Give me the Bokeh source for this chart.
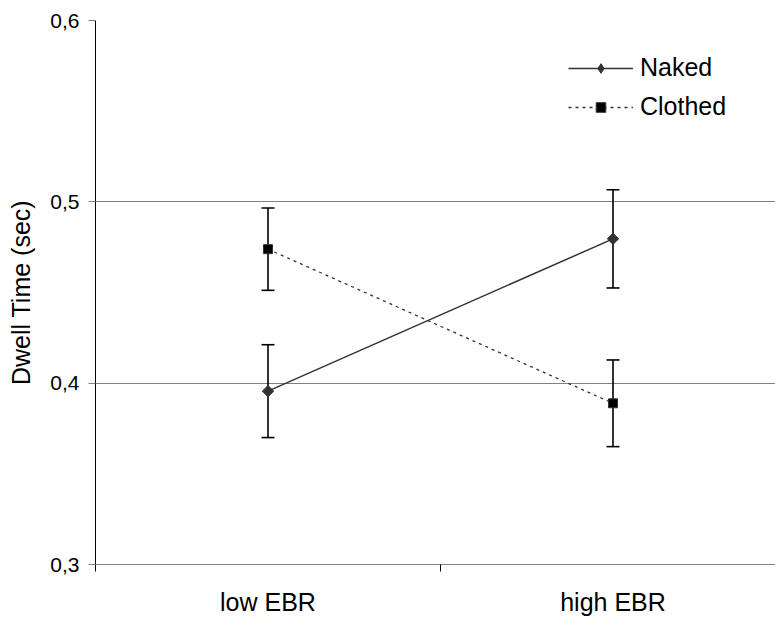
import math
from bokeh.plotting import figure
from bokeh.models import (Range1d, FixedTicker, CustomJSTickFormatter, Legend, LegendItem,
                          Whisker, TeeHead, ColumnDataSource)
from bokeh.embed import file_html
from bokeh.resources import INLINE

categories = ["low EBR", "high EBR"]
naked = [0.3956, 0.4796]
naked_err = [0.0256, 0.0271]
clothed = [0.4739, 0.3889]
clothed_err = [0.0227, 0.0239]
y_ticks = [0.3, 0.4, 0.5, 0.6]

FONT = "Liberation Sans"
xs = [i + 0.5 for i in range(len(categories))]

p = figure(width=775, height=618, output_backend="svg", toolbar_location=None,
           x_range=Range1d(0, 680 / 345), y_range=Range1d(0.3, 0.6),
           min_border_left=95, min_border_right=0, min_border_top=20, min_border_bottom=53)
p.outline_line_color = None
p.background_fill_color = "white"
p.border_fill_color = "white"

# x axis
p.xaxis.ticker = FixedTicker(ticks=xs, minor_ticks=list(range(len(categories) + 1)))
p.xaxis.major_label_overrides = {x: c for x, c in zip(xs, categories)}
p.xaxis.major_tick_out = 0
p.xaxis.major_tick_in = 0
p.xaxis.minor_tick_out = 7
p.xaxis.minor_tick_in = 0
p.xaxis.minor_tick_line_color = "black"
p.xaxis.axis_line_color = "#808080"
p.xaxis.axis_line_width = 1.2
p.xaxis.major_label_text_font = FONT
p.xaxis.major_label_text_font_size = "25px"
p.xaxis.major_label_text_color = "black"
p.xaxis.major_label_standoff = 16
p.xgrid.grid_line_color = None

# y axis
p.yaxis.ticker = FixedTicker(ticks=y_ticks, minor_ticks=[])
p.yaxis.formatter = CustomJSTickFormatter(code="return tick.toFixed(1).replace('.', ',');")
p.yaxis.major_tick_out = 7
p.yaxis.major_tick_in = 0
p.yaxis.major_tick_line_color = "#808080"
p.yaxis.axis_line_color = "black"
p.yaxis.major_label_text_font = FONT
p.yaxis.major_label_text_font_size = "21px"
p.yaxis.major_label_text_color = "black"
p.yaxis.major_label_standoff = 9
p.yaxis.axis_label = "Dwell Time (sec)"
p.yaxis.axis_label_text_font = FONT
p.yaxis.axis_label_text_font_size = "25px"
p.yaxis.axis_label_text_font_style = "normal"
p.yaxis.axis_label_text_color = "black"
p.yaxis.axis_label_standoff = 12
p.ygrid.ticker = FixedTicker(ticks=y_ticks)
p.ygrid.grid_line_color = "#808080"
p.ygrid.grid_line_width = 1.2

# error bars
src_n = ColumnDataSource(dict(x=xs, y=naked,
                              lo=[v - e for v, e in zip(naked, naked_err)],
                              hi=[v + e for v, e in zip(naked, naked_err)]))
src_c = ColumnDataSource(dict(x=xs, y=clothed,
                              lo=[v - e for v, e in zip(clothed, clothed_err)],
                              hi=[v + e for v, e in zip(clothed, clothed_err)]))
for src in (src_n, src_c):
    w = Whisker(base="x", upper="hi", lower="lo", source=src, dimension="height",
                line_color="black", line_width=1.6,
                upper_head=TeeHead(size=13, line_color="black", line_width=1.6),
                lower_head=TeeHead(size=13, line_color="black", line_width=1.6))
    p.add_layout(w)

ln = p.line("x", "y", source=src_n, line_color="#333333", line_width=1.5)
mn = p.scatter("x", "y", source=src_n, marker="square", angle=math.pi / 4, size=8,
               fill_color="#333333", line_color="#333333")
# legend-only diamond glyph (legend swatches ignore marker angle); NaN keeps it off the plot
mn_leg = p.scatter(x=[float("nan")], y=[float("nan")], marker="diamond", size=12,
                   fill_color="#333333", line_color="#333333")
lc = p.line("x", "y", source=src_c, line_color="#333333", line_width=1.3, line_dash="3 4")
mc = p.scatter("x", "y", source=src_c, marker="square", size=9,
               fill_color="black", line_color="#333333")

legend = Legend(items=[LegendItem(label="Naked", renderers=[ln, mn_leg]),
                       LegendItem(label="Clothed", renderers=[lc, mc])],
                location=(473, 443), orientation="vertical",
                glyph_width=65, glyph_height=24, label_height=24, spacing=10,
                label_standoff=7, padding=0, margin=0,
                border_line_color=None, background_fill_alpha=0,
                label_text_font=FONT, label_text_font_size="25px", label_text_color="black")
p.add_layout(legend)

open("out.html", "w").write(file_html(p, INLINE))
